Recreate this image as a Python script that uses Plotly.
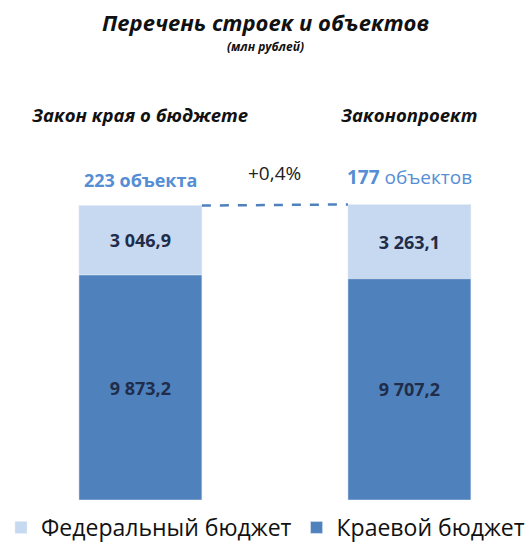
import plotly.graph_objects as go

categories = ["Закон края о бюджете", "Законопроект"]
federal = [3046.9, 3263.1]
regional = [9873.2, 9707.2]
federal_labels = ["3 046,9", "3 263,1"]
regional_labels = ["9 873,2", "9 707,2"]
object_labels = ["<b>223 объекта</b>", "<b>177</b> объектов"]
change_label = "+0,4%"
series_names = ["Федеральный бюджет", "Краевой бюджет"]

LIGHT = "#C6D9F1"
DARK = "#4F81BD"
LABEL = "#558ED5"
NAVY = "#1F2D4A"
FONT = "Open Sans"

x = [0, 1]
w = 0.457
totals = [f + r for f, r in zip(federal, regional)]

fig = go.Figure()
fig.add_trace(go.Bar(
    x=x, y=federal, width=w, name=series_names[0], marker_color=LIGHT,
    text=federal_labels, textposition="inside", insidetextanchor="middle",
    textfont=dict(family=FONT, size=18, color=NAVY, weight="bold"),
    hoverinfo="skip", base=regional,
))
fig.add_trace(go.Bar(
    x=x, y=regional, width=w, name=series_names[1], marker_color=DARK,
    text=regional_labels, textposition="inside", insidetextanchor="middle",
    textfont=dict(family=FONT, size=18, color=NAVY, weight="bold"),
    hoverinfo="skip",
))
fig.add_trace(go.Scatter(
    x=[x[0] + w / 2, x[1] - w / 2], y=totals, mode="lines",
    line=dict(color=DARK, width=2.5, dash="dash"),
    showlegend=False, hoverinfo="skip",
))

for xi, t, lab, sz in zip(x, totals, object_labels, [18, 19]):
    fig.add_annotation(x=xi, y=t, text=lab, showarrow=False, yanchor="bottom",
                       yshift=12, font=dict(family=FONT, size=sz, color=LABEL))
fig.add_annotation(x=0.5, y=max(totals), text=change_label, showarrow=False,
                   yanchor="bottom", yshift=16,
                   font=dict(family=FONT, size=19, color="#222"))
for xi, c in zip(x, categories):
    fig.add_annotation(x=xi, y=1, yref="paper", yanchor="middle", yshift=-114,
                       text="<b><i>" + c + "</i></b>", showarrow=False,
                       font=dict(family=FONT, size=18.5, color="#111"))

fig.add_annotation(x=0.5, xref="paper", y=1, yref="paper", yanchor="middle", yshift=-22,
                   text="<b><i>Перечень строек и объектов</i></b>", showarrow=False,
                   font=dict(family=FONT, size=22, color="#111"))
fig.add_annotation(x=0.5, xref="paper", y=1, yref="paper", yanchor="middle", yshift=-46,
                   text="<b><i>(млн рублей)</i></b>", showarrow=False,
                   font=dict(family=FONT, size=12, color="#111"))

fig.update_layout(
    width=531, height=549, barmode="overlay",
    margin=dict(l=0, r=0, t=0, b=49),
    plot_bgcolor="white", paper_bgcolor="white",
    xaxis=dict(range=[-0.522, 1.452], visible=False),
    yaxis=dict(range=[0, 21940], visible=False),
    legend=dict(orientation="h", x=0.5, xanchor="center", yref="container",
                y=-0.005, yanchor="bottom", traceorder="normal",
                font=dict(family=FONT, size=23, color="#111"), itemwidth=30),
    showlegend=True,
)
fig.write_html("out.html")
